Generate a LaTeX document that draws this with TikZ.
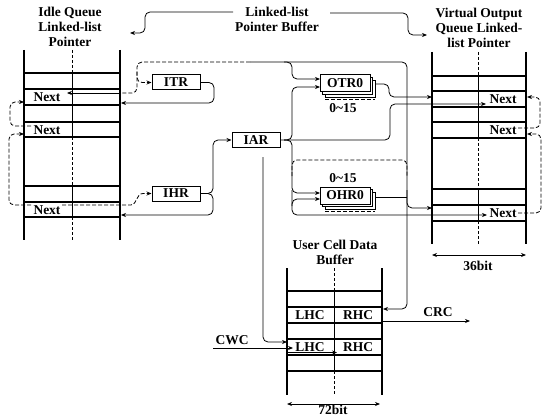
\documentclass[tikz,border=0pt]{standalone}
\usepackage{fontspec}
\setmainfont{Liberation Serif}
\usetikzlibrary{arrows.meta}
\begin{document}
\begin{tikzpicture}[x=1pt,y=-1pt,
  lbl/.style={font=\fontsize{13.5}{15}\selectfont\bfseries, inner sep=0pt, align=center},
  ln/.style={line width=0.8pt},
  tb/.style={line width=1.1pt},
  dv/.style={line width=0.7pt, dash pattern=on 3pt off 2pt},
  dsh/.style={line width=0.8pt, dash pattern=on 4pt off 2pt},
  arw/.style={-{Stealth[length=5pt,width=4pt]}},
  dbl/.style={{Stealth[length=5pt,width=4pt]}-{Stealth[length=5pt,width=4pt]}},
  reg/.style={lbl, draw, line width=1pt, minimum width=48pt, minimum height=15pt, fill=white},
  rc/.style={rounded corners=5pt},
]
\useasboundingbox (0,0) rectangle (546,417);

% titles
\node[lbl] (t1) at (70,27) {Idle Queue\\Linked-list\\Pointer};
\node[lbl] (t2) at (277,19.5) {Linked-list\\Pointer Buffer};
\node[lbl] (t3) at (479,28) {Virtual Output\\Queue Linked-\\list Pointer};
\node[lbl] (t4) at (335,252) {User Cell Data\\Buffer};

% title pointers
\coordinate (cA) at (233,12); \coordinate (cB) at (130,33);
\draw[ln,arw,rc] (cA) -- (145,12) -- (145,33) -- (cB);
\coordinate (cC) at (330,13); \coordinate (cD) at (427,35);
\draw[ln,arw,rc] (cC) -- (408,13) -- (408,35) -- (cD);

% idle queue table
\draw[tb] (24,50) -- (24,240) (120,50) -- (120,240);
\foreach \y in {73,89,105,122,137,186,202,217} \draw[tb] (24,\y) -- (120,\y);
\draw[ln] (72,73) -- (72,137) (72,186) -- (72,217);
\draw[dv] (72,50) -- (72,73) (72,137) -- (72,186) (72,217) -- (72,240);
\node[lbl] (in1) at (47,97) {Next};
\node[lbl] (in2) at (47,130) {Next};
\node[lbl] (in3) at (47,210) {Next};

% virtual output queue table
\draw[tb] (432,52) -- (432,244) (526,52) -- (526,244);
\foreach \y in {76,91,107,122,138,189,205,221} \draw[tb] (432,\y) -- (526,\y);
\draw[ln] (478,76) -- (478,138) (478,189) -- (478,221);
\draw[dv] (478,52) -- (478,76) (478,138) -- (478,189) (478,221) -- (478,244);
\node[lbl] (vn1) at (503,99) {Next};
\node[lbl] (vn2) at (503,130) {Next};
\node[lbl] (vn3) at (503,213) {Next};

% user cell data buffer
\draw[tb] (287,268) -- (287,395) (382,268) -- (382,395);
\foreach \y in {291,307,323,339,355,371} \draw[tb] (287,\y) -- (382,\y);
\draw[ln] (334,291) -- (334,371);
\draw[dv] (334,268) -- (334,291) (334,371) -- (334,395);
\node[lbl] (l1) at (310,315) {LHC};
\node[lbl] (r1) at (358,315) {RHC};
\node[lbl] (l2) at (310,347) {LHC};
\node[lbl] (r2) at (358,347) {RHC};

% registers
\node[reg] (itr) at (176,82.5) {ITR};
\node[reg] (ihr) at (176,193.5) {IHR};
\node[reg] (iar) at (256,140) {IAR};
\foreach \d in {5,2.5} {
  \draw[line width=0.8pt, fill=white] (320+\d,75+\d) rectangle (370+\d,92+\d);
  \draw[line width=0.8pt, fill=white] (320+\d,187+\d) rectangle (370+\d,204+\d);
}
\node[reg, minimum width=50pt, minimum height=17pt] (otr) at (345,83.5) {OTR0};
\node[reg, minimum width=50pt, minimum height=17pt] (ohr) at (345,195.5) {OHR0};
\draw[dsh] (325,99) -- (375,99);
\draw[dsh] (325,211.5) -- (375,211.5);
\node[lbl] (o1) at (343,108) {0\textasciitilde15};
\node[lbl] (o2) at (343,178) {0\textasciitilde15};

% IHR outputs
\coordinate (iR3) at (121,215);
\draw[ln,arw,rc] (ihr.east) -- (213,193.5) -- (213,215) -- (iR3);
\draw[ln,arw,rc] (206,193.5) -- (213,193.5) -- (213,140) -- (iar.west);

% ITR output
\coordinate (iR1) at (121,103);
\draw[ln,arw,rc] (itr.east) -- (214,82.5) -- (214,103) -- (iR1);

% top line and vertical to data buffer
\coordinate (dR1) at (383,309);
\draw[ln,arw,rc] (250,62) -- (407,62) -- (407,309) -- (dR1);
\draw[dsh,rc] (250,62) -- (137,62) -- (137,93) -- (121,93);
\coordinate (iN1) at (67,93);
\draw[ln,arw] (121,93) -- (iN1);
\draw[dsh,arw,rc] (137,72) -- (137,82.5) -- (itr.west);

% OTR0 inputs
\coordinate (otrA) at (320,79); \coordinate (otrB) at (320,87);
\draw[ln,arw,rc] (284,62) -- (292,62) -- (292,79) -- (otrA);
\draw[ln,arw,rc] (284,140) -- (292,140) -- (292,87) -- (otrB);

% IAR to VOQ next
\coordinate (vN1) at (486,104);
\draw[ln,arw,rc] (iar.east) -- (390,140) -- (390,104) -- (vN1);

% OHR0 inputs
\coordinate (ohrA) at (320,193); \coordinate (ohrB) at (320,199);
\draw[ln,arw,rc] (284,140) -- (292,140) -- (292,193) -- (ohrA);
\draw[ln,arw,rc] (292,206) -- (292,199) -- (ohrB);
\coordinate (vN3) at (487,215);
\draw[ln,arw,rc] (292,190) -- (292,215) -- (vN3);
\draw[dsh,rc] (292,176) -- (292,160) -- (407,160) -- (407,176);

% OTR0 output
\coordinate (vL1) at (432,97);
\draw[ln,arw,rc] (376,84) -- (389,84) -- (389,97) -- (vL1);

% OHR0 output
\coordinate (vL3) at (432,208);
\draw[ln] (376,197) -- (407,197);
\draw[ln,arw,rc] (407,190) -- (407,208) -- (vL3);

% IAR to data buffer
\coordinate (dL2) at (287,342);
\draw[ln,arw,rc] (263,157) -- (263,342) -- (dL2);

% CWC
\node[lbl] (cwc) at (232,340) {CWC};
\coordinate (cw0) at (213,348); \coordinate (cw1) at (293,348);
\draw[ln,arw] (cw0) -- (cw1);
\coordinate (cw2) at (288,352.5); \coordinate (cw3) at (337,352.5);
\draw[ln,arw] (cw2) -- (cw3);

% CRC
\node[lbl] (crc) at (438,312) {CRC};
\coordinate (cr0) at (382,321); \coordinate (cr1) at (470,321);
\draw[ln,arw] (cr0) -- (cr1);

% widths
\coordinate (w1) at (432,255); \coordinate (w2) at (526,255);
\draw[ln,dbl] (w1) -- (w2);
\node[lbl] (b36) at (478,266) {36bit};
\coordinate (w3) at (287,404); \coordinate (w4) at (380,404);
\draw[ln,dbl] (w3) -- (w4);
\node[lbl] (b72) at (333,410) {72bit};

% linked-list loops, idle queue
\coordinate (iL1) at (24,102); \coordinate (iL2) at (24,134);
\draw[dsh,arw,rc] (31,126) -- (10,126) -- (10,102) -- (iL1);
\draw[dsh,arw,rc] (31,205) -- (9,205) -- (9,134) -- (iL2);
\draw[dsh,arw] (62,205) -- (131,205) .. controls (137,205) and (136,193.5) .. (143,193.5) -- (ihr.west);

% linked-list loops, output queue
\coordinate (vR1) at (527,97); \coordinate (vR2) at (527,134);
\draw[dsh,arw,rc] (518,128) -- (540,128) -- (540,97) -- (vR1);
\draw[dsh,arw,rc] (518,213) -- (541,213) -- (541,134) -- (vR2);
\end{tikzpicture}
\end{document}
